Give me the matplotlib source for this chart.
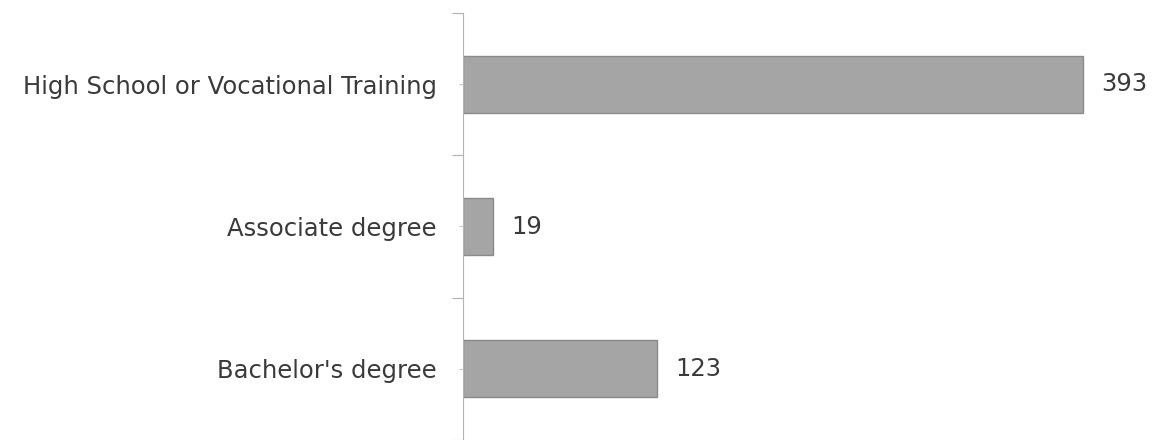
import numpy as np
import matplotlib.pyplot as plt

categories = ["High School or Vocational Training", "Associate degree", "Bachelor's degree"]
values = [393, 19, 123]

fig = plt.figure(figsize=(11.55, 4.4), dpi=100)
ax = fig.add_axes([463/1155, 0.0, 1 - 463/1155, 1 - 13/440])

y = np.arange(len(categories))
ax.barh(y, values, height=0.4, color="#a5a5a5", edgecolor="#8a8a8a", linewidth=1)

for yi, v in zip(y, values):
    ax.annotate(str(v), (v, yi), xytext=(13, 0), textcoords="offset points",
                va="center", ha="left", fontsize=17.5, color="#3a3a3a",
                family="DejaVu Sans")

ax.set_xlim(0, 438.5)
ax.set_ylim(len(categories) - 0.5, -0.5)
ax.set_yticks(np.arange(-0.5, len(categories), 1.0))
ax.set_yticklabels([])
ax.set_yticks(y, minor=True)
ax.set_yticklabels(categories, minor=True, fontsize=17.5, color="#3a3a3a", family="DejaVu Sans")
ax.tick_params(axis="y", which="major", length=8, color="#b0b0b0", direction="out")
ax.tick_params(axis="y", which="minor", length=3, color="#bbbbbb", pad=16)
ax.set_xticks([])
for s in ["top", "right", "bottom"]:
    ax.spines[s].set_visible(False)
ax.spines["left"].set_color("#b5b5b5")

fig.savefig("out.png", dpi=100)
